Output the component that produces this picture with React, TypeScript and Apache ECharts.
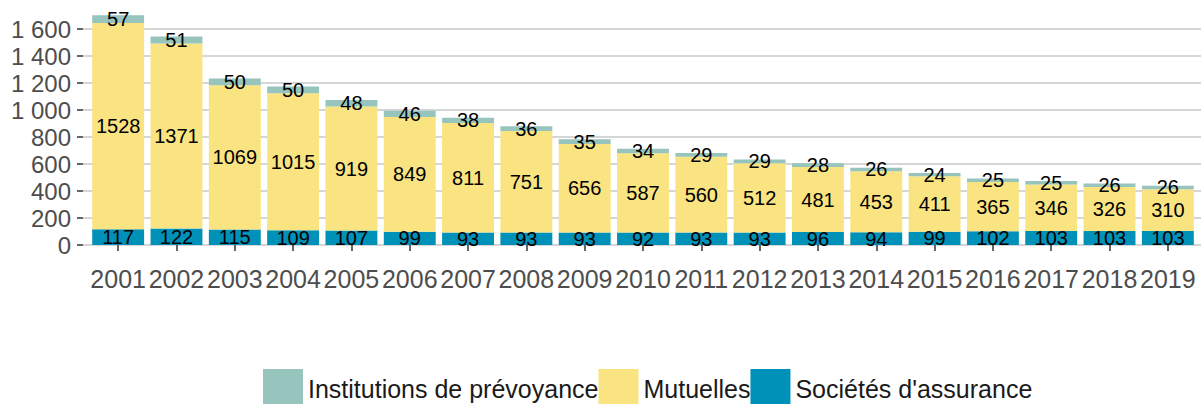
import React, { useEffect, useRef } from "react";
import * as echarts from "echarts";

const years = ["2001","2002","2003","2004","2005","2006","2007","2008","2009","2010","2011","2012","2013","2014","2015","2016","2017","2018","2019"];
const societes = [117,122,115,109,107,99,93,93,93,92,93,93,96,94,99,102,103,103,103];
const mutuelles = [1528,1371,1069,1015,919,849,811,751,656,587,560,512,481,453,411,365,346,326,310];
const institutions = [57,51,50,50,48,46,38,36,35,34,29,29,28,26,24,25,25,26,26];
const yTicks = [0, 200, 400, 600, 800, 1000, 1200, 1400, 1600];

const FONT = "Liberation Sans, Arial, sans-serif";

export default function App() {
  const ref = useRef<HTMLDivElement>(null);
  useEffect(() => {
    if (!ref.current) return;
    const chart = echarts.init(ref.current, undefined, { renderer: "svg" });
    const yMax = yTicks[yTicks.length - 1];
    const labelCfg = {
      show: true,
      position: "inside" as const,
      color: "#000",
      fontSize: 20,
      fontFamily: FONT,
    };
    chart.setOption({
      animation: false,
      backgroundColor: "#fff",
      textStyle: { fontFamily: FONT },
      grid: [
        { left: 89, right: 6, top: 29, bottom: 159 },
        { left: 83, right: 2, top: 29, bottom: 159 },
      ],
      legend: {
        data: ["Institutions de prévoyance", "Mutuelles", "Sociétés d'assurance"],
        left: 263,
        top: 369,
        padding: 0,
        itemWidth: 40,
        itemHeight: 40,
        itemGap: 0,
        icon: "rect",
        textStyle: { fontSize: 25, color: "#1a1a1a", fontFamily: FONT },
      },
      xAxis: [
        {
          type: "category",
          gridIndex: 0,
          data: years,
          offset: 11,
          axisLine: { show: false },
          axisTick: { show: true, length: 6, alignWithLabel: true, lineStyle: { color: "#333", width: 1.5 } },
          axisLabel: { fontSize: 25, color: "#4d4d4d", margin: 10, fontFamily: FONT, interval: 0 },
          splitLine: { show: false },
        },
        { type: "value", gridIndex: 1, show: false, min: 0, max: 1 },
      ],
      yAxis: [
        { type: "value", gridIndex: 0, min: 0, max: yMax, show: false, splitLine: { show: false } },
        {
          type: "value",
          gridIndex: 1,
          min: 0,
          max: yMax,
          interval: 200,
          axisLine: { show: false },
          axisTick: { show: true, length: 6, lineStyle: { color: "#333", width: 1.5 } },
          axisLabel: {
            fontSize: 24,
            color: "#4d4d4d",
            margin: 12,
            fontFamily: FONT,
            formatter: (v: number) => String(v).replace(/\B(?=(\d{3})+(?!\d))/g, " "),
          },
          splitLine: { show: true, lineStyle: { color: "#c8c8c8", width: 1.5 } },
        },
      ],
      series: [
        {
          name: "Sociétés d'assurance",
          type: "bar",
          stack: "total",
          data: societes,
          barCategoryGap: "11%",
          clip: false,
          itemStyle: { color: "#0091b9" },
          label: labelCfg,
        },
        {
          name: "Mutuelles",
          type: "bar",
          stack: "total",
          data: mutuelles,
          barCategoryGap: "11%",
          clip: false,
          itemStyle: { color: "#f9e481" },
          label: labelCfg,
        },
        {
          name: "Institutions de prévoyance",
          type: "bar",
          stack: "total",
          data: institutions,
          barCategoryGap: "11%",
          clip: false,
          itemStyle: { color: "#97c4bd" },
          label: labelCfg,
        },
      ],
    });
    return () => chart.dispose();
  }, []);
  return (
    <div
      ref={ref}
      style={{ position: "fixed", left: 0, top: 0, width: 1203, height: 404 }}
    />
  );
}
